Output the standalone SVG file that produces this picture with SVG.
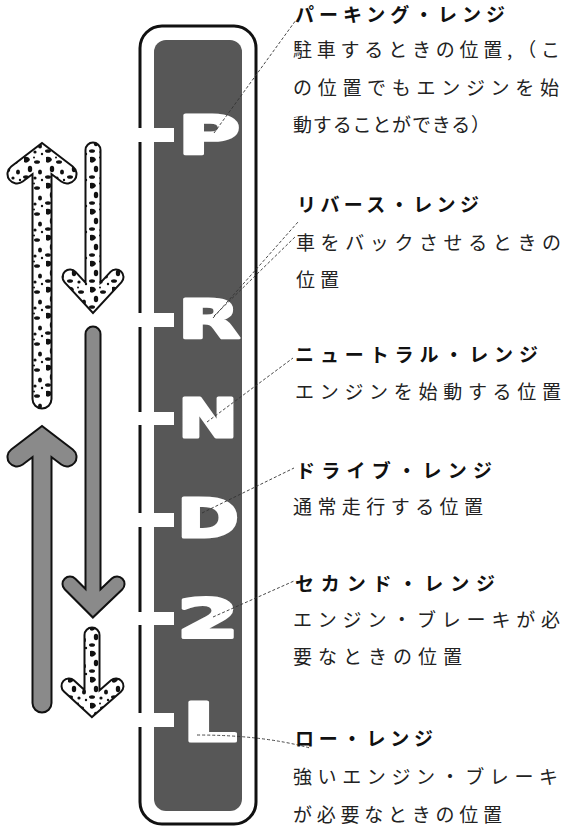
<svg xmlns="http://www.w3.org/2000/svg" width="563" height="829" viewBox="0 0 563 829">
<defs>
<style>
.t{font-family:"Noto Sans CJK JP","Noto Sans CJK SC",sans-serif;font-size:19px;font-weight:700;fill:#111}
.d{font-family:"Noto Sans CJK JP","Noto Sans CJK SC",sans-serif;font-size:19px;font-weight:400;fill:#222}
.g{font-family:"DejaVu Sans",sans-serif;font-size:54px;font-weight:700;fill:#fff;stroke:#fff;stroke-width:3;stroke-linejoin:round}
.lead{fill:none;stroke:#333;stroke-width:0.9;stroke-dasharray:3 2}
.ol{fill:none;stroke:#111;stroke-linecap:round;stroke-linejoin:miter}
.mf{fill:none;stroke:url(#mottle);stroke-linecap:round;stroke-linejoin:miter}
.gf{fill:none;stroke:#8a8a8a;stroke-linecap:round;stroke-linejoin:miter}
.tab{fill:#fff}
</style>
<pattern id="mottle" patternUnits="userSpaceOnUse" width="22" height="26">
<rect width="22" height="26" fill="#fff"/>
<path d="M2 1 q5 -1 6 3 q-3 4 -6 2z" fill="#111"/>
<ellipse cx="15" cy="6" rx="3" ry="1.8" fill="#111"/>
<ellipse cx="8" cy="13" rx="2.2" ry="3.2" fill="#111"/>
<ellipse cx="18" cy="16" rx="2" ry="2.6" fill="#111"/>
<ellipse cx="4" cy="21" rx="3" ry="1.8" fill="#111"/>
<circle cx="13" cy="22" r="1.6" fill="#111"/>
<circle cx="20" cy="24" r="1.2" fill="#111"/>
<circle cx="12" cy="1.5" r="1" fill="#111"/>
</pattern>
</defs>
<rect width="563" height="829" fill="#fff"/>

<g id="selector">
<rect x="140" y="26" width="116" height="798" rx="22" fill="#fff" stroke="#111" stroke-width="3"/>
<rect x="154" y="40" width="88" height="771" rx="12" fill="#575757"/>
<rect class="tab" x="136" y="128" width="38" height="14"/>
<rect class="tab" x="136" y="313" width="38" height="14"/>
<rect class="tab" x="136" y="412" width="38" height="13"/>
<rect class="tab" x="136" y="513" width="38" height="14"/>
<rect class="tab" x="136" y="612" width="38" height="13"/>
<rect class="tab" x="136" y="713" width="38" height="14"/>
</g>
<g id="gear-P"><text class="g" x="178" y="154" textLength="62" lengthAdjust="spacingAndGlyphs">P</text></g>
<g id="gear-R"><text class="g" x="178" y="338" textLength="62" lengthAdjust="spacingAndGlyphs">R</text></g>
<g id="gear-N"><text class="g" x="178" y="437" textLength="60" lengthAdjust="spacingAndGlyphs">N</text></g>
<g id="gear-D"><text class="g" x="177" y="537" textLength="62" lengthAdjust="spacingAndGlyphs">D</text></g>
<g id="gear-2"><text class="g" x="177" y="637" textLength="62" lengthAdjust="spacingAndGlyphs">2</text></g>
<g id="gear-L"><text class="g" x="183" y="741" textLength="54" lengthAdjust="spacingAndGlyphs">L</text></g>

<g id="arrow-up-mottled">
<path class="ol" stroke-width="21" d="M42 158 V399 M17 174 L42 155 L67 174"/>
<path class="mf" stroke-width="17" d="M42 158 V399 M17 174 L42 155 L67 174"/>
</g>
<g id="arrow-down-mottled">
<path class="ol" stroke-width="17" d="M93 150 V300 M70 277 L93 302 L116 277"/>
<path class="mf" stroke-width="13" d="M93 150 V300 M70 277 L93 302 L116 277"/>
</g>
<g id="arrow-down-gray">
<path class="ol" stroke-width="17" d="M93 334 V604 M70 584 L93 607 L117 584"/>
<path class="gf" stroke-width="13" d="M93 334 V604 M70 584 L93 607 L117 584"/>
</g>
<g id="arrow-up-gray">
<path class="ol" stroke-width="21" d="M42 441 V703 M17 457 L42 438 L67 457"/>
<path class="gf" stroke-width="17" d="M42 441 V703 M17 457 L42 438 L67 457"/>
</g>
<g id="arrow-down-mottled-small">
<path class="ol" stroke-width="17" d="M92 635 V705 M69 686 L92 707 L116 686"/>
<path class="mf" stroke-width="13" d="M92 635 V705 M69 686 L92 707 L116 686"/>
</g>

<g id="connectors">
<path class="lead" d="M214 133 L296 20"/>
<path class="lead" d="M213 318 L298 222"/>
<path class="lead" d="M214 316 L296 236"/>
<path class="lead" d="M207 422 L293 358"/>
<path class="lead" d="M202 513 L294 468"/>
<path class="lead" d="M213 617 L294 581"/>
<path class="lead" d="M197 735 Q262 735 310 748"/>
</g>

<g id="label-P">
<text class="t" x="295" y="22" textLength="210" lengthAdjust="spacing">パーキング・レンジ</text>
<text class="d" x="293" y="57" textLength="267" lengthAdjust="spacing">駐車するときの位置,（こ</text>
<text class="d" x="293" y="95" textLength="266" lengthAdjust="spacing">の位置でもエンジンを始</text>
<text class="d" x="293" y="132" textLength="197" lengthAdjust="spacing">動することができる）</text>
</g>
<g id="label-R">
<text class="t" x="297" y="212" textLength="182" lengthAdjust="spacing">リバース・レンジ</text>
<text class="d" x="296" y="250" textLength="265" lengthAdjust="spacing">車をバックさせるときの</text>
<text class="d" x="296" y="287" textLength="43" lengthAdjust="spacing">位置</text>
</g>
<g id="label-N">
<text class="t" x="295" y="362" textLength="243" lengthAdjust="spacing">ニュートラル・レンジ</text>
<text class="d" x="295" y="399" textLength="266" lengthAdjust="spacing">エンジンを始動する位置</text>
</g>
<g id="label-D">
<text class="t" x="296" y="478" textLength="196" lengthAdjust="spacing">ドライブ・レンジ</text>
<text class="d" x="293" y="514" textLength="190" lengthAdjust="spacing">通常走行する位置</text>
</g>
<g id="label-2">
<text class="t" x="295" y="591" textLength="200" lengthAdjust="spacing">セカンド・レンジ</text>
<text class="d" x="293" y="627" textLength="267" lengthAdjust="spacing">エンジン・ブレーキが必</text>
<text class="d" x="293" y="664" textLength="169" lengthAdjust="spacing">要なときの位置</text>
</g>
<g id="label-L">
<text class="t" x="295" y="746" textLength="138" lengthAdjust="spacing">ロー・レンジ</text>
<text class="d" x="293" y="784" textLength="265" lengthAdjust="spacing">強いエンジン・ブレーキ</text>
<text class="d" x="293" y="822" textLength="209" lengthAdjust="spacing">が必要なときの位置</text>
</g>
</svg>
